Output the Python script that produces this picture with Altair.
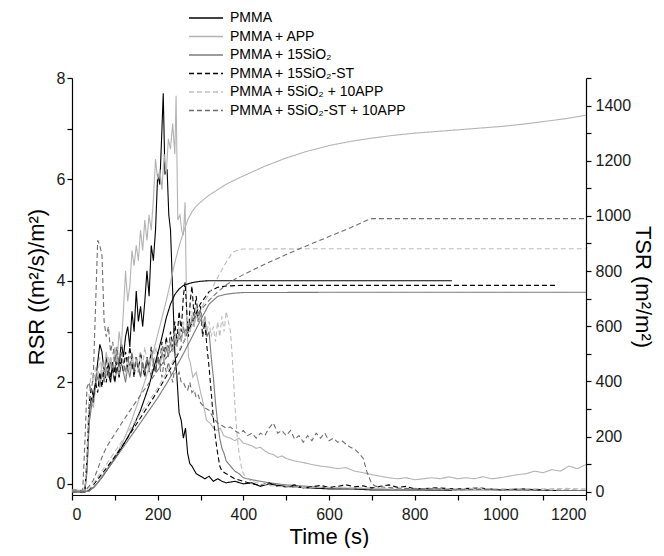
import altair as alt
import pandas as pd

SERIES = ["PMMA", "PMMA + APP", "PMMA + 15SiO₂", "PMMA + 15SiO₂-ST",
          "PMMA + 5SiO₂ + 10APP", "PMMA + 5SiO₂-ST + 10APP"]
COLORS = ["#000000", "#b3b3b3", "#7a7a7a", "#000000", "#bdbdbd", "#6e6e6e"]
DASHES = [[1, 0], [1, 0], [1, 0], [5, 3], [5, 3], [5, 3]]

# ---- RSR (left axis) : (time s, RSR) ----
RSR_PMMA = [(0,-0.15),(10,-0.15),(20,-0.16),(30,-0.15),(35,0.3),(40,1.3),(45,1.7),(50,1.6),(55,2.0),(60,2.4),
            (65,2.75),(70,2.6),(75,2.2),(80,2.5),(85,2.2),(90,2.0),(95,2.4),(100,2.2),(105,2.6),(110,2.3),
            (115,2.8),(120,2.5),(125,2.9),(130,3.1),(135,2.7),(140,3.4),(145,3.0),(150,3.8),(155,3.2),(160,3.5),
            (165,3.1),(170,3.6),(175,4.2),(180,3.7),(185,4.7),(190,4.4),(195,5.0),(200,6.1),(205,5.9),(210,7.0),
            (213,7.7),(217,6.1),(222,6.2),(226,5.3),(230,5.0),(235,3.8),(240,2.6),(245,2.1),(250,1.4),(255,1.25),
            (260,0.9),(265,1.1),(270,0.6),(275,0.4),(280,0.35),(290,0.2),(300,0.15),(310,0.1),(320,0.15),(330,0.05),
            (340,0.1),(350,0.05),(360,0.02),(380,0.05),(400,0.0),(420,0.02),(440,-0.05),(460,0.0),(480,-0.03),
            (500,-0.05),(550,-0.08),(600,-0.1),(650,-0.1),(700,-0.12),(750,-0.12),(800,-0.12),(887,-0.13)]
RSR_APP = [(0,-0.12),(10,-0.12),(20,-0.13),(30,-0.12),(35,0.2),(40,1.2),(45,1.6),(50,1.5),(55,1.9),(60,2.2),
           (65,2.0),(70,2.4),(75,2.2),(80,2.6),(85,2.3),(90,2.5),(95,2.2),(100,2.7),(105,2.4),(110,3.0),
           (115,2.7),(120,3.4),(125,4.2),(130,3.6),(135,3.9),(140,4.6),(145,4.3),(150,4.7),(155,4.4),(160,5.0),
           (165,4.6),(170,5.2),(175,4.8),(180,5.3),(185,5.0),(190,5.6),(195,6.4),(200,6.0),(205,6.2),(210,5.8),
           (215,6.5),(220,6.1),(225,6.8),(230,6.6),(235,7.1),(240,6.5),(243,7.65),(247,5.2),(252,5.3),(256,5.0),
           (260,4.9),(264,5.55),(268,3.2),(272,2.5),(276,2.4),(282,2.1),(290,2.2),(299,1.85),(306,1.6),(314,1.25),
           (322,1.2),(330,1.1),(338,1.05),(346,1.1),(354,0.95),(362,0.92),(370,0.9),(380,0.85),(390,0.9),(400,0.8),
           (410,0.78),(420,0.75),(430,0.7),(440,0.72),(450,0.65),(460,0.6),(470,0.58),(480,0.52),(490,0.55),(500,0.5),
           (520,0.45),(540,0.42),(560,0.38),(580,0.35),(600,0.33),(620,0.3),(640,0.32),(660,0.25),(680,0.22),(700,0.18),
           (720,0.15),(740,0.12),(760,0.1),(780,0.12),(800,0.08),(820,0.1),(840,0.12),(860,0.1),(880,0.14),(900,0.1),
           (920,0.12),(940,0.1),(960,0.14),(980,0.1),(1000,0.12),(1020,0.15),(1040,0.18),(1060,0.2),(1080,0.25),
           (1100,0.22),(1120,0.28),(1140,0.25),(1160,0.35),(1180,0.3),(1200,0.38)]
RSR_15SIO2 = [(0,-0.14),(10,-0.14),(20,-0.15),(30,-0.14),(35,0.3),(40,1.2),(45,1.5),(50,1.8),(55,2.0),(60,2.1),
              (65,1.9),(70,2.2),(75,2.0),(80,2.3),(85,2.1),(90,2.4),(95,2.2),(100,2.0),(105,2.3),(110,2.1),
              (115,2.4),(120,2.2),(125,2.0),(130,2.3),(135,2.1),(140,2.4),(145,2.2),(150,2.5),(155,2.3),(160,2.1),
              (165,2.4),(170,2.2),(175,2.5),(180,2.3),(185,2.6),(190,2.4),(195,2.2),(200,2.5),(205,2.3),(210,2.6),
              (215,2.4),(220,2.7),(225,2.5),(230,2.8),(235,2.6),(240,2.9),(245,2.7),(250,3.0),(255,2.8),(260,3.1),
              (265,2.9),(270,3.2),(275,3.0),(280,3.3),(285,3.1),(290,3.4),(295,3.2),(300,3.4),(305,3.1),(310,3.3),
              (315,2.9),(320,3.0),(325,2.5),(330,2.1),(335,1.6),(340,1.2),(345,0.9),(350,0.7),(355,0.6),(360,0.45),
              (370,0.35),(380,0.25),(390,0.2),(400,0.12),(420,0.08),(440,0.05),(460,0.02),(480,0.0),(500,-0.02),
              (550,-0.05),(600,-0.08),(700,-0.1),(800,-0.12),(900,-0.12),(1000,-0.12),(1100,-0.13),(1200,-0.13)]
RSR_15SIO2_ST = [(0,-0.16),(10,-0.16),(20,-0.17),(30,-0.16),(35,0.5),(40,1.6),(45,1.9),(50,1.7),(55,2.0),(60,1.8),
                 (65,2.2),(70,1.9),(75,2.3),(80,2.0),(85,2.4),(90,2.1),(95,2.3),(100,2.0),(105,2.4),(110,2.1),
                 (115,2.5),(120,2.2),(125,2.6),(130,2.3),(135,2.7),(140,2.4),(145,2.1),(150,2.5),(155,2.2),(160,2.6),
                 (165,2.3),(170,2.1),(175,2.5),(180,2.2),(185,2.7),(190,2.4),(195,2.2),(200,2.6),(205,2.3),(210,2.8),
                 (215,2.5),(220,2.9),(225,2.6),(230,3.0),(235,2.7),(240,3.2),(245,2.8),(250,3.4),(255,3.0),(260,3.7),
                 (264,3.97),(268,3.4),(272,2.9),(276,3.6),(280,3.9),(285,3.3),(290,3.7),(295,3.2),(300,3.5),(305,2.9),
                 (310,3.2),(315,2.7),(320,2.3),(325,1.8),(330,1.3),(335,0.9),(340,0.6),(345,0.35),(350,0.25),(360,0.2),
                 (370,0.15),(380,0.1),(400,0.05),(420,0.0),(440,-0.03),(460,0.02),(480,-0.05),(500,-0.06),(520,-0.02),
                 (540,-0.08),(560,-0.06),(580,-0.03),(600,-0.07),(620,-0.05),(640,-0.02),(660,-0.06),(680,-0.04),
                 (700,-0.08),(720,-0.05),(740,-0.02),(760,-0.07),(780,-0.05),(800,-0.1),(850,-0.08),(900,-0.1),
                 (950,-0.08),(1000,-0.12),(1050,-0.1),(1100,-0.12),(1130,-0.13)]
RSR_5SIO2_APP = [(0,-0.12),(10,-0.12),(20,-0.13),(30,-0.12),(35,0.6),(40,1.8),(45,2.2),(50,2.0),(55,2.3),(60,2.1),
                 (65,2.5),(70,2.2),(75,2.4),(80,2.1),(85,2.5),(90,2.3),(95,2.6),(100,2.3),(105,2.6),(110,2.2),
                 (115,2.6),(120,2.3),(125,2.1),(130,2.5),(135,2.2),(140,2.6),(145,2.3),(150,2.5),(155,2.2),(160,2.6),
                 (165,2.3),(170,2.7),(175,2.4),(180,2.2),(185,2.6),(190,2.3),(195,2.7),(200,2.5),(205,2.3),(210,2.7),
                 (215,2.4),(220,2.8),(225,2.6),(230,2.9),(235,2.6),(240,3.0),(245,2.7),(250,3.1),(255,2.8),(260,3.2),
                 (265,2.9),(270,3.3),(275,3.0),(280,3.4),(285,3.1),(290,3.5),(295,3.2),(300,3.4),(305,3.1),(310,3.3),
                 (315,3.0),(320,3.2),(325,2.9),(330,3.1),(335,2.8),(340,3.2),(345,2.9),(350,3.3),(355,3.0),(360,3.4),
                 (365,3.2),(370,3.0),(375,2.4),(380,1.6),(385,1.0),(390,0.6),(395,0.35),(400,0.2),(410,0.1),(420,0.05),
                 (440,0.0),(460,-0.03),(480,-0.05),(500,-0.06),(550,-0.08),(600,-0.07),(650,-0.08),(700,-0.08),
                 (750,-0.1),(800,-0.09),(850,-0.1),(900,-0.1),(950,-0.09),(1000,-0.1),(1050,-0.1),(1100,-0.1),
                 (1150,-0.09),(1200,-0.1)]
RSR_5SIO2_ST_APP = [(0,-0.12),(10,-0.12),(20,-0.13),(25,-0.12),(30,0.8),(35,1.9),(40,2.0),(45,1.8),(50,2.2),(55,3.5),
                    (60,4.8),(65,4.7),(70,4.5),(75,3.2),(80,2.9),(85,3.1),(90,2.6),(95,2.8),(100,2.4),(105,2.7),
                    (110,2.3),(115,2.6),(120,2.4),(125,2.2),(130,2.5),(135,2.3),(140,2.6),(145,2.2),(150,2.5),(155,2.3),
                    (160,2.1),(165,2.4),(170,2.2),(175,2.5),(180,2.3),(185,2.1),(190,2.4),(195,2.2),(200,2.5),(205,2.3),
                    (210,2.1),(215,2.4),(220,2.2),(225,2.4),(230,2.2),(235,2.0),(240,2.3),(245,2.1),(250,2.2),(255,2.0),
                    (260,2.0),(265,1.9),(270,1.85),(275,2.0),(280,1.8),(285,1.85),(290,1.7),(295,1.75),(300,1.6),
                    (310,1.5),(320,1.45),(330,1.3),(340,1.2),(350,1.15),(360,1.1),(370,1.12),(380,1.05),(390,1.0),
                    (400,1.05),(410,0.95),(420,1.0),(430,0.9),(440,1.0),(450,0.95),(460,1.1),(470,1.2),(480,1.0),
                    (490,1.05),(500,0.95),(510,1.05),(520,0.88),(530,0.95),(540,0.82),(550,0.95),(560,0.85),(570,1.0),
                    (580,0.9),(590,1.0),(600,0.85),(610,0.9),(620,0.82),(630,0.85),(640,0.78),(650,0.72),(660,0.68),
                    (670,0.6),(680,0.5),(688,0.25),(695,0.1),(700,0.0),(710,-0.05),(750,-0.08),(800,-0.1),(850,-0.1),
                    (900,-0.12),(950,-0.11),(1000,-0.12),(1050,-0.12),(1100,-0.13),(1150,-0.12),(1200,-0.13)]

# ---- TSR (right axis) : (time s, TSR) ----
TSR_PMMA = [(0,0),(30,0),(40,3),(50,15),(60,32),(70,52),(80,75),(90,98),(100,120),(120,170),(140,225),(160,295),
            (180,385),(200,500),(210,560),(220,630),(230,680),(240,715),(250,735),(260,748),(280,758),(300,763),
            (320,765),(400,765),(600,765),(887,765)]
TSR_APP = [(0,0),(30,0),(40,2),(50,14),(60,32),(70,54),(80,78),(90,102),(100,127),(110,154),(120,185),(130,222),
           (140,262),(150,306),(160,352),(170,400),(180,452),(190,507),(200,570),(210,630),(220,692),(230,760),
           (240,830),(250,890),(260,940),(270,985),(280,1015),(290,1035),(300,1050),(320,1075),(340,1095),(360,1115),
           (380,1130),(400,1145),(450,1180),(500,1210),(550,1235),(600,1255),(650,1270),(700,1282),(750,1292),
           (800,1300),(850,1306),(900,1312),(950,1318),(1000,1324),(1050,1332),(1100,1342),(1150,1352),(1200,1365)]
TSR_15SIO2 = [(0,0),(30,0),(40,3),(50,15),(60,33),(80,75),(100,118),(120,162),(140,206),(160,250),(180,295),
              (200,340),(220,390),(240,443),(260,500),(280,560),(300,622),(320,680),(340,708),(360,716),(380,720),
              (400,722),(600,723),(1200,723)]
TSR_15SIO2_ST = [(0,0),(30,0),(35,2),(40,8),(50,25),(60,45),(80,85),(100,127),(120,172),(140,220),(160,268),
                 (180,316),(200,365),(220,418),(240,475),(260,540),(280,612),(300,682),(320,725),(340,741),(360,746),
                 (400,748),(600,748),(1130,748)]
TSR_5SIO2_APP = [(0,0),(30,0),(35,2),(40,10),(50,30),(60,53),(80,99),(100,145),(120,191),(140,237),(160,283),
                 (180,329),(200,376),(220,430),(240,485),(260,543),(280,601),(300,660),(320,718),(340,776),(360,833),
                 (375,868),(390,878),(400,880),(600,881),(1200,881)]
TSR_5SIO2_ST_APP = [(0,0),(25,0),(30,2),(40,20),(50,42),(60,82),(70,125),(80,160),(100,210),(120,258),(140,305),
                    (160,350),(180,395),(200,440),(220,485),(240,530),(260,575),(280,618),(300,658),(320,694),
                    (340,724),(360,750),(380,770),(400,787),(450,825),(500,860),(550,893),(600,925),(650,957),
                    (690,985),(700,990),(800,990),(1200,990)]

RSR_ALL = [RSR_PMMA, RSR_APP, RSR_15SIO2, RSR_15SIO2_ST, RSR_5SIO2_APP, RSR_5SIO2_ST_APP]
TSR_ALL = [TSR_PMMA, TSR_APP, TSR_15SIO2, TSR_15SIO2_ST, TSR_5SIO2_APP, TSR_5SIO2_ST_APP]

X_TICKS = list(range(0, 1201, 100))
RSR_TICKS = list(range(0, 9))
TSR_TICKS = list(range(0, 1501, 100))

FONT = "Liberation Sans"

def to_frame(groups, name):
    rows = []
    for s, pts in zip(SERIES, groups):
        for t, v in pts:
            rows.append({"series": s, "t": t, name: v})
    return pd.DataFrame(rows)

rsr_df = to_frame(RSR_ALL, "rsr")
tsr_df = to_frame(TSR_ALL, "tsr")

legend = alt.Legend(title=None, orient="none", legendX=127, legendY=-67, padding=0,
                    symbolType="M-3,0H3", symbolSize=128, symbolStrokeWidth=1.3,
                    labelFont=FONT, labelFontSize=14, labelColor="#000", rowPadding=4.5,
                    labelOffset=17, symbolLimit=0, labelLimit=0)
color = alt.Color("series:N", scale=alt.Scale(domain=SERIES, range=COLORS), legend=legend, sort=SERIES)
dash = alt.StrokeDash("series:N", scale=alt.Scale(domain=SERIES, range=DASHES), legend=legend, sort=SERIES)

x_enc = alt.X("t:Q", scale=alt.Scale(domain=[0, 1200], nice=False, zero=False),
              axis=alt.Axis(title="Time (s)", values=X_TICKS, format="d",
                            labelExpr="datum.value % 200 == 0 ? datum.label : ''",
                            labelPadding=6, titlePadding=4))

rsr_layer = alt.Chart(rsr_df).mark_line(strokeWidth=1.1, clip=True).encode(
    x=x_enc,
    y=alt.Y("rsr:Q", scale=alt.Scale(domain=[-0.22, 8], nice=False, zero=False),
            axis=alt.Axis(title="RSR ((m²/s)/m²)", values=RSR_TICKS, format="d",
                          labelExpr="datum.value % 2 == 0 ? datum.label : ''",
                          titlePadding=8, orient="left")),
    color=color, strokeDash=dash, detail="series:N", order="t:Q")

tsr_layer = alt.Chart(tsr_df).mark_line(strokeWidth=1.1, clip=True).encode(
    x=x_enc,
    y=alt.Y("tsr:Q", scale=alt.Scale(domain=[-12, 1500], nice=False, zero=False),
            axis=alt.Axis(title="TSR (m²/m²)", values=TSR_TICKS, format="d",
                          labelExpr="datum.value % 200 == 0 && datum.value <= 1400 ? datum.label : ''",
                          titlePadding=0, orient="right", labelPadding=4)),
    color=color, strokeDash=dash, detail="series:N", order="t:Q")

chart = alt.layer(rsr_layer, tsr_layer).resolve_scale(y="independent").properties(
    width=514, height=417,
    autosize=alt.AutoSizeParams(type="none"),
    padding={"left": 64, "top": 70, "right": 70, "bottom": 53},
    background="white",
).configure_view(stroke=None).configure_axis(
    grid=False, domainColor="#000", domainWidth=1.2, tickColor="#000", tickWidth=1.2, tickSize=5,
    labelColor="#1a1a1a", labelFont=FONT, labelFontSize=16, titleFont=FONT, titleFontSize=22,
    titleFontWeight="normal", titleColor="#000",
)

chart.save("out.html", embed_options={"renderer": "svg", "actions": False})
